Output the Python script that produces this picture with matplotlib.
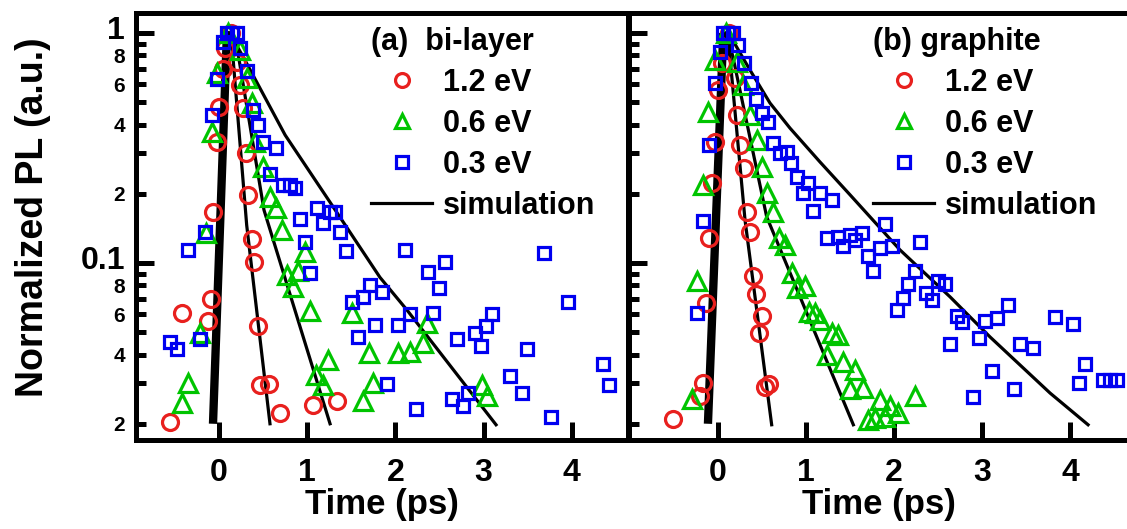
import numpy as np
import matplotlib
matplotlib.use("Agg")
import matplotlib.pyplot as plt
import matplotlib.transforms as mtransforms
from matplotlib.lines import Line2D
from matplotlib.ticker import FixedLocator, FixedFormatter

plt.rcParams['font.family'] = ['Liberation Sans', 'DejaVu Sans']
plt.rcParams['font.weight'] = 'bold'

RED = '#e8201e'
GREEN = '#00c400'
BLUE = '#0000f0'

### measured points, (time in ps, normalized PL)
# (a) bi-layer
a_red = [(0.14, 1.0), (0.068, 0.86), (0.20, 0.75), (0.049, 0.70), (0.238, 0.594), (0.003, 0.478),
         (0.276, 0.471), (-0.026, 0.337), (0.306, 0.300), (0.332, 0.198), (-0.065, 0.167),
         (0.371, 0.127), (0.400, 0.101), (-0.094, 0.070), (-0.423, 0.0607), (-0.128, 0.056),
         (0.439, 0.0532), (0.465, 0.0294), (0.570, 0.0297), (0.692, 0.0223), (1.062, 0.0242),
         (1.334, 0.0250), (-0.556, 0.0204)]
a_green = [(0.105, 1.0), (0.238, 0.84), (-0.026, 0.67), (0.314, 0.637), (0.371, 0.496), (-0.083, 0.372),
           (0.408, 0.337), (0.502, 0.262), (0.578, 0.194), (0.643, 0.173), (-0.147, 0.135),
           (0.711, 0.139), (0.975, 0.112), (0.768, 0.0885), (0.899, 0.0922), (0.836, 0.0784),
           (1.032, 0.0619), (1.505, 0.0604), (-0.215, 0.0498), (2.355, 0.0549), (2.316, 0.0447),
           (1.704, 0.0408), (2.033, 0.0405), (2.166, 0.0412), (1.239, 0.0379), (1.100, 0.0325),
           (1.176, 0.0294), (1.749, 0.0300), (-0.348, 0.0301), (-0.423, 0.0246), (1.636, 0.0250),
           (2.978, 0.0294), (3.035, 0.0263)]
a_blue = [(0.087, 1.0), (0.144, 1.0), (0.20, 1.0), (0.049, 0.917), (0.238, 0.86), (-0.019, 0.631),
          (0.314, 0.686), (0.382, 0.463), (-0.083, 0.44), (0.446, 0.398), (0.502, 0.337), (0.646, 0.317),
          (0.578, 0.245), (0.729, 0.218), (0.805, 0.218), (0.862, 0.211), (1.108, 0.173), (1.258, 0.167),
          (1.315, 0.167), (0.918, 0.156), (1.183, 0.149), (-0.159, 0.137), (1.372, 0.137), (-0.348, 0.114),
          (0.975, 0.123), (1.44, 0.113), (2.109, 0.114), (3.688, 0.110), (2.562, 0.101), (2.366, 0.0915),
          (1.032, 0.0901), (1.712, 0.0802), (1.845, 0.0751), (1.636, 0.0713), (2.498, 0.0775),
          (1.505, 0.0677), (3.96, 0.0677), (2.166, 0.0598), (2.43, 0.0604), (3.099, 0.0598),
          (3.027, 0.0532), (1.769, 0.0535), (2.033, 0.054), (2.902, 0.0494), (1.573, 0.0476),
          (2.695, 0.0465), (2.967, 0.0435), (-0.215, 0.0465), (-0.556, 0.0455), (-0.48, 0.0423),
          (3.489, 0.0423), (4.35, 0.0363), (4.425, 0.0296), (3.299, 0.0322), (3.432, 0.0273),
          (1.901, 0.0297), (2.234, 0.0233), (2.638, 0.0256), (2.77, 0.0238), (2.827, 0.0273),
          (3.761, 0.0213)]
a_sim_rise = [(-0.068, 0.020), (0.09, 1.0)]
a_sim_red = [(0.10, 1.0), (0.144, 0.917), (0.314, 0.146), (0.578, 0.020)]
a_sim_green = [(0.11, 1.0), (0.20, 0.887), (0.51, 0.170), (1.259, 0.020)]
a_sim_blue = [(0.12, 1.0), (0.28, 0.78), (0.75, 0.36), (1.258, 0.184), (1.825, 0.0866), (2.132, 0.0624),
              (3.141, 0.0198)]

# (b) graphite
b_red = [(0.13, 1.0), (0.042, 0.738), (0.193, 0.636), (-0.003, 0.565), (0.219, 0.44), (-0.034, 0.337),
         (0.25, 0.326), (0.295, 0.258), (-0.072, 0.222), (0.326, 0.167), (0.364, 0.137), (-0.099, 0.128),
         (0.401, 0.0875), (0.432, 0.073), (-0.136, 0.067), (0.497, 0.0588), (0.469, 0.0494),
         (-0.174, 0.0301), (-0.205, 0.0263), (0.583, 0.0297), (0.534, 0.0288), (-0.508, 0.0209)]
b_green = [(0.091, 1.0), (-0.034, 0.763), (0.213, 0.75), (0.288, 0.594), (-0.11, 0.455), (0.364, 0.44),
           (0.44, 0.343), (0.497, 0.262), (-0.174, 0.218), (0.56, 0.201), (0.628, 0.167), (0.697, 0.129),
           (0.761, 0.12), (-0.242, 0.0833), (0.838, 0.0901), (0.894, 0.0775), (0.989, 0.0793),
           (1.038, 0.0613), (1.102, 0.0604), (1.159, 0.0565), (1.292, 0.0498), (1.367, 0.0488),
           (1.235, 0.0398), (1.424, 0.0372), (1.557, 0.0342), (1.5, 0.0282), (1.651, 0.0285),
           (-0.299, 0.0256), (1.708, 0.0208), (1.841, 0.0254), (1.955, 0.0238), (1.784, 0.0211),
           (1.898, 0.0215), (2.049, 0.0223), (2.239, 0.0263)]
b_blue = [(0.06, 1.0), (0.117, 1.0), (0.174, 1.0), (0.231, 0.887), (0.023, 0.829), (0.295, 0.743),
          (-0.034, 0.608), (0.372, 0.605), (0.432, 0.515), (0.497, 0.447), (0.565, 0.411), (-0.099, 0.326),
          (0.628, 0.331), (0.705, 0.30), (0.78, 0.305), (0.826, 0.271), (0.894, 0.236), (1.026, 0.222),
          (0.969, 0.201), (1.159, 0.201), (1.299, 0.188), (1.083, 0.169), (-0.17, 0.152), (1.235, 0.129),
          (1.367, 0.13), (1.5, 0.133), (1.633, 0.135), (1.557, 0.126), (1.424, 0.118), (1.708, 0.107),
          (1.765, 0.0925), (1.841, 0.116), (1.974, 0.119), (1.898, 0.148), (2.295, 0.124), (2.239, 0.0922),
          (2.163, 0.0811), (2.106, 0.0708), (2.031, 0.0624), (2.503, 0.0833), (2.58, 0.0811),
          (2.364, 0.0738), (2.428, 0.0689), (2.712, 0.0588), (2.769, 0.0552), (3.034, 0.0562),
          (3.167, 0.0577), (3.299, 0.0655), (2.636, 0.0443), (2.969, 0.0472), (3.432, 0.0443),
          (3.576, 0.0428), (3.83, 0.0585), (4.038, 0.0545), (4.17, 0.0364), (4.106, 0.0301),
          (4.375, 0.0309), (4.455, 0.0309), (4.534, 0.0309), (3.11, 0.0338), (3.367, 0.0282),
          (2.901, 0.0261), (-0.235, 0.0604)]
b_sim_rise = [(-0.114, 0.020), (0.06, 1.0)]
b_sim_red = [(0.08, 1.0), (0.136, 0.789), (0.307, 0.154), (0.61, 0.0198)]
b_sim_green = [(0.10, 1.0), (0.17, 0.787), (0.553, 0.159), (1.538, 0.0198)]
b_sim_blue = [(0.12, 1.0), (0.364, 0.69), (0.591, 0.496), (0.818, 0.386), (1.159, 0.275), (1.5, 0.198),
              (2.068, 0.114), (2.636, 0.0713), (3.091, 0.0477), (3.773, 0.0272), (4.205, 0.0198)]

energy_labels = ["1.2 eV", "0.6 eV", "0.3 eV"]
x_ticks = [0, 1, 2, 3, 4]
y_major = [0.1, 1.0]
y_major_labels = ["0.1", "1"]
y_minor = [0.02, 0.03, 0.04, 0.05, 0.06, 0.07, 0.08, 0.09, 0.2, 0.3, 0.4, 0.5, 0.6, 0.7, 0.8, 0.9]
y_minor_labels = ["2", "", "4", "", "6", "", "8", "", "2", "", "4", "", "6", "", "8", ""]


def draw_panel(ax, red, green, blue, rise, sims, xlim, show_ylabels):
    s = np.array(rise)
    ax.plot(s[:, 0], s[:, 1], color='black', lw=6, solid_capstyle='butt', zorder=2)
    for s in sims:
        s = np.array(s)
        ax.plot(s[:, 0], s[:, 1], color='black', lw=2.3, zorder=2)

    r = np.array(red)
    g = np.array(green)
    b = np.array(blue)
    ax.plot(r[:, 0], r[:, 1], 'o', ms=11.5, mfc='none', mec=RED, mew=2.3, zorder=3)
    ax.plot(g[:, 0], g[:, 1], '^', ms=12.5, mfc='none', mec=GREEN, mew=2.3, zorder=4)
    ax.plot(b[:, 0], b[:, 1], 's', ms=8.5, mfc='none', mec=BLUE, mew=2.3, zorder=5)

    ax.set_yscale('log')
    ax.set_xlim(*xlim)
    ax.set_ylim(0.0170, 1.222)
    ax.xaxis.set_major_locator(FixedLocator(x_ticks))
    ax.yaxis.set_major_locator(FixedLocator(y_major))
    ax.yaxis.set_minor_locator(FixedLocator(y_minor))
    if show_ylabels:
        ax.yaxis.set_major_formatter(FixedFormatter(y_major_labels))
        ax.yaxis.set_minor_formatter(FixedFormatter(y_minor_labels))
    else:
        ax.yaxis.set_major_formatter(FixedFormatter([""] * 2))
        ax.yaxis.set_minor_formatter(FixedFormatter([""] * len(y_minor)))

    ax.tick_params(axis='x', which='major', direction='in', length=13, width=3.6,
                   labelsize=23, pad=13, top=False)
    ax.tick_params(axis='x', which='minor', bottom=False, top=False)
    ax.tick_params(axis='y', which='major', direction='in', length=13, width=3.6,
                   labelsize=23, pad=8, right=False)
    ax.tick_params(axis='y', which='minor', direction='in', length=7, width=3.6,
                   labelsize=15, pad=8, right=False)
    for sp in ax.spines.values():
        sp.set_linewidth(3.6)

    ax.set_xlabel("Time (ps)", fontsize=25, fontweight='bold', labelpad=0)

    handles = [
        Line2D([], [], ls='none', marker='o', ms=10, mfc='none', mec=RED, mew=2.3),
        Line2D([], [], ls='none', marker='^', ms=10.5, mfc='none', mec=GREEN, mew=2.3),
        Line2D([], [], ls='none', marker='s', ms=8, mfc='none', mec=BLUE, mew=2.3),
        Line2D([], [], color='black', lw=2.3),
    ]
    return handles


fig = plt.figure(figsize=(11.27, 5.29), dpi=100)
ax1 = fig.add_axes([136 / 1127, 1 - 440 / 529, 492 / 1127, 427 / 529])
ax2 = fig.add_axes([629 / 1127, 1 - 440 / 529, 500 / 1127, 427 / 529])

h1 = draw_panel(ax1, a_red, a_green, a_blue, a_sim_rise, [a_sim_red, a_sim_green, a_sim_blue],
                (-0.941, 4.637), True)
h2 = draw_panel(ax2, b_red, b_green, b_blue, b_sim_rise, [b_sim_red, b_sim_green, b_sim_blue],
                (-1.011, 4.67), False)
ax2.spines['right'].set_visible(False)

# lift the big decade labels a little so they clear the small "8"
lift = mtransforms.ScaledTranslation(0, 4 / 72, fig.dpi_scale_trans)
for lab in ax1.yaxis.get_majorticklabels():
    lab.set_transform(lab.get_transform() + lift)

ax1.set_ylabel("Normalized PL (a.u.)", fontsize=27, fontweight='bold')
ax1.yaxis.set_label_coords(-0.172, 0.521)

for ax, h, title, x0 in [(ax1, h1, "(a)  bi-layer", 0.478), (ax2, h2, "(b) graphite", 0.488)]:
    leg = ax.legend(h, energy_labels + ["simulation"], loc='upper left', bbox_to_anchor=(x0, 0.968),
                    frameon=False, fontsize=22, title=title, title_fontsize=22, alignment='left',
                    handlelength=2.0, handletextpad=0.35, labelspacing=0.36, borderpad=0,
                    borderaxespad=0)
    leg.get_title().set_fontweight('bold')

fig.savefig("out.png", dpi=100)
